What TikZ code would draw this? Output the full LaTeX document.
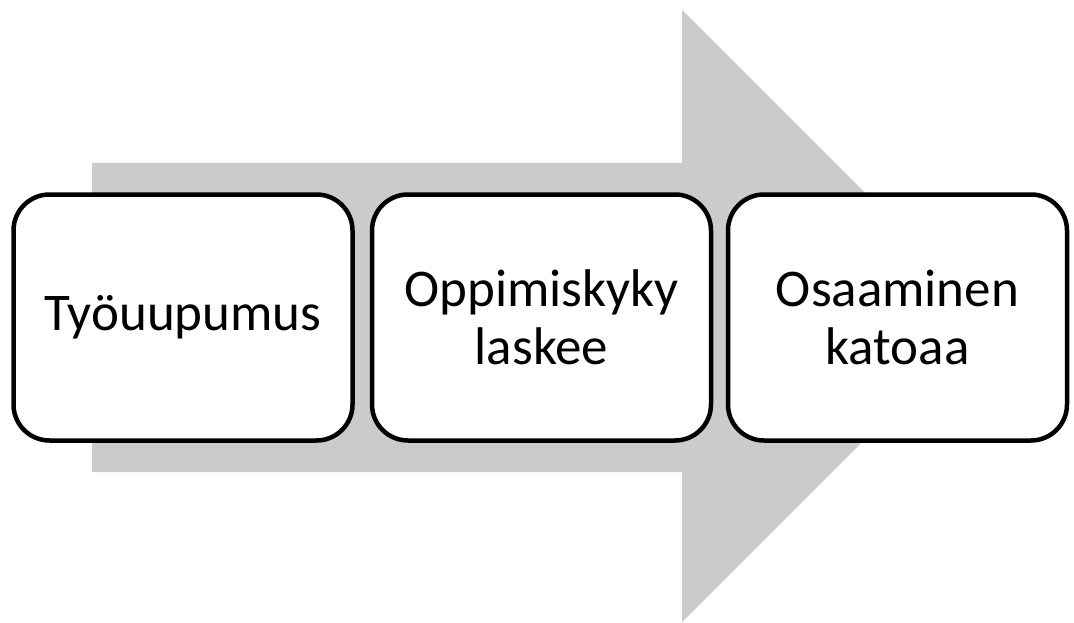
\documentclass[tikz,border=0pt]{standalone}
\usepackage{fontspec}
\setmainfont{Carlito}
\definecolor{flowgrey}{HTML}{CBCBCB}
\begin{document}
\begin{tikzpicture}[x=1pt,y=-1pt,
  stage/.style={draw=black, line width=4.5pt, rounded corners=36pt, fill=white,
    minimum width=339pt, minimum height=246pt, inner sep=0pt, align=center,
    font=\fontsize{53}{58}\selectfont}]
  % page frame
  \fill[white] (0,0) rectangle (1074,623);
  \useasboundingbox (0,0) rectangle (1074,623);
  % broad grey arrow behind the stages
  \fill[flowgrey] (92,163) -- (682,163) -- (682,10) -- (988,316)
    -- (682,622) -- (682,472) -- (92,472) -- cycle;
  % the three stages
  \node[stage] (s1) at (183,317.5) {Työuupumus};
  \node[stage] (s2) at (541.5,317.5) {Oppimiskyky\\laskee};
  \node[stage] (s3) at (897.5,317.5) {Osaaminen\\katoaa};
\end{tikzpicture}
\end{document}
